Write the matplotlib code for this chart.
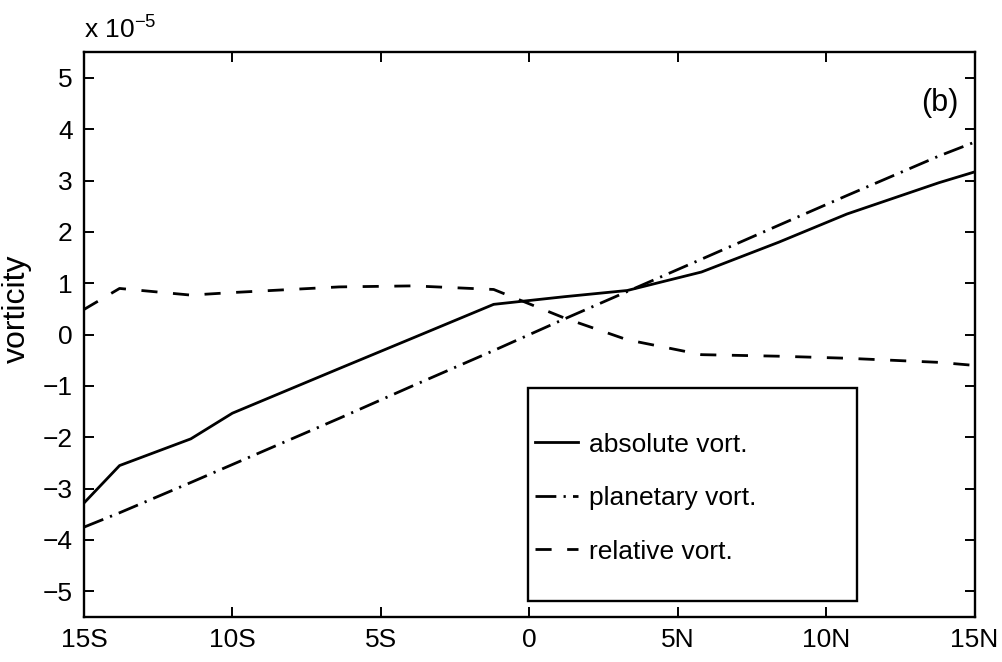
import matplotlib
matplotlib.use("Agg")
import matplotlib.pyplot as plt
from matplotlib.patches import Rectangle

plt.rcParams['font.family'] = ['Liberation Sans', 'DejaVu Sans']
plt.rcParams['mathtext.default'] = 'regular'

# Latitude (negative = south) and vorticity in units of 1e-5 s^-1
lat = [-15, -13.8, -11.4, -10.0, -6.4, -3.9, -1.2, 1.2, 3.3, 5.8, 8.4, 10.7, 13.8, 15]
absolute_vort = [-3.28, -2.55, -2.03, -1.53, -0.66, -0.06, 0.59, 0.74, 0.86, 1.22, 1.80, 2.35, 2.96, 3.17]
planetary_vort = [-3.75, -3.47, -2.88, -2.53, -1.63, -0.99, -0.31, 0.31, 0.84, 1.47, 2.13, 2.71, 3.48, 3.75]
relative_vort = [0.49, 0.90, 0.77, 0.82, 0.93, 0.95, 0.88, 0.32, -0.10, -0.39, -0.42, -0.46, -0.54, -0.60]

xticks = [-15, -10, -5, 0, 5, 10, 15]
xticklabels = ['15S', '10S', '5S', '0', '5N', '10N', '15N']
yticks = [-5, -4, -3, -2, -1, 0, 1, 2, 3, 4, 5]

fig = plt.figure(figsize=(10.03, 6.62), dpi=100)
ax = fig.add_axes([0.0837, 0.068, 0.888, 0.853])

lw = 2.0
ax.plot(lat, absolute_vort, color='black', lw=lw, linestyle='-', label='absolute vort.')
ax.plot(lat, planetary_vort, color='black', lw=lw,
        linestyle=(0, (7.5, 2.6, 0.8, 2.6)), label='planetary vort.')
ax.plot(lat, relative_vort, color='black', lw=lw,
        linestyle=(0, (5.8, 5.6)), label='relative vort.')

ax.set_xlim(-15, 15)
ax.set_ylim(-5.5, 5.5)
ax.set_xticks(xticks)
ax.set_xticklabels(xticklabels)
ax.set_yticks(yticks)
ax.tick_params(direction='in', length=7, width=1.4, labelsize=19,
               top=True, right=True)
ax.tick_params(axis='x', pad=8)
ax.tick_params(axis='y', pad=8)
for s in ax.spines.values():
    s.set_linewidth(1.7)

ax.set_ylabel('vorticity', fontsize=23)
ax.yaxis.set_label_coords(-0.0586, 0.545)
ax.text(0.0, 1.015, r'x 10$^{-5}$', transform=ax.transAxes, fontsize=19,
        ha='left', va='bottom')
ax.text(0.982, 0.91, '(b)', transform=ax.transAxes, fontsize=22,
        ha='right', va='center')

# Legend frame drawn as a separate box, larger than its entries
box = Rectangle((0.498, 0.028), 0.37, 0.377, transform=ax.transAxes,
                facecolor='white', edgecolor='black', lw=1.7, zorder=3)
ax.add_patch(box)
leg = ax.legend(loc='upper left', bbox_to_anchor=(0.501, 0.336), frameon=False,
                fontsize=19, handlelength=1.6, handletextpad=0.42,
                labelspacing=1.12, borderaxespad=0.0, borderpad=0.2)
leg.set_zorder(4)

fig.savefig('out.png', dpi=100)
